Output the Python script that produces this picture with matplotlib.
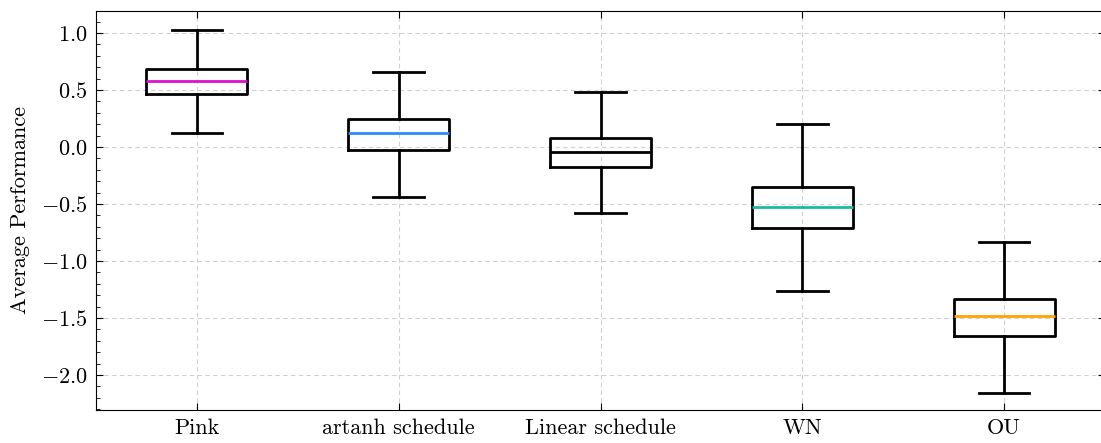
import matplotlib
matplotlib.use("Agg")
import matplotlib.pyplot as plt
from matplotlib.ticker import AutoMinorLocator

# values
labels = ["Pink", "artanh schedule", "Linear schedule", "WN", "OU"]
whislo = [0.123, -0.439, -0.579, -1.263, -2.158]
q1 = [0.465, -0.026, -0.175, -0.711, -1.658]
med = [0.579, 0.123, -0.044, -0.526, -1.482]
q3 = [0.684, 0.246, 0.079, -0.351, -1.333]
whishi = [1.03, 0.658, 0.482, 0.202, -0.833]
median_colors = ["#DD11CC", "#2E8BFF", "black", "#1ABC9C", "#FFA500"]

plt.rcParams["font.family"] = "cmr10"
plt.rcParams["mathtext.fontset"] = "cm"
plt.rcParams["axes.formatter.use_mathtext"] = True
plt.rcParams["font.size"] = 16

fig = plt.figure(figsize=(11.01, 4.43), dpi=100)
ax = fig.add_axes([96 / 1101, 1 - 410 / 443, (1105 - 96) / 1101, (410 - 11) / 443])

stats = []
for i, name in enumerate(labels):
    stats.append(dict(label=name, whislo=whislo[i], q1=q1[i], med=med[i],
                      q3=q3[i], whishi=whishi[i], fliers=[]))

bp = ax.bxp(stats, widths=0.5, showfliers=False,
            boxprops=dict(linewidth=2, color="black"),
            whiskerprops=dict(linewidth=2, color="black"),
            capprops=dict(linewidth=2, color="black"),
            medianprops=dict(linewidth=2))
for line, c in zip(bp["medians"], median_colors):
    line.set_color(c)

ax.set_xlim(0.5, 5.5)
ax.set_ylim(-2.307, 1.193)
ax.set_ylabel("Average Performance", labelpad=8)
ax.yaxis.set_minor_locator(AutoMinorLocator(5))
ax.tick_params(which="both", direction="in", top=True, right=True)
ax.tick_params(axis="x", which="minor", bottom=False, top=False)
ax.tick_params(which="major", length=5, pad=6)
ax.tick_params(which="minor", length=3)
ax.grid(True, linestyle=(0, (4, 3)), color="#d0d0d0", linewidth=0.8)
ax.set_axisbelow(True)

fig.savefig("out.png", dpi=100)
